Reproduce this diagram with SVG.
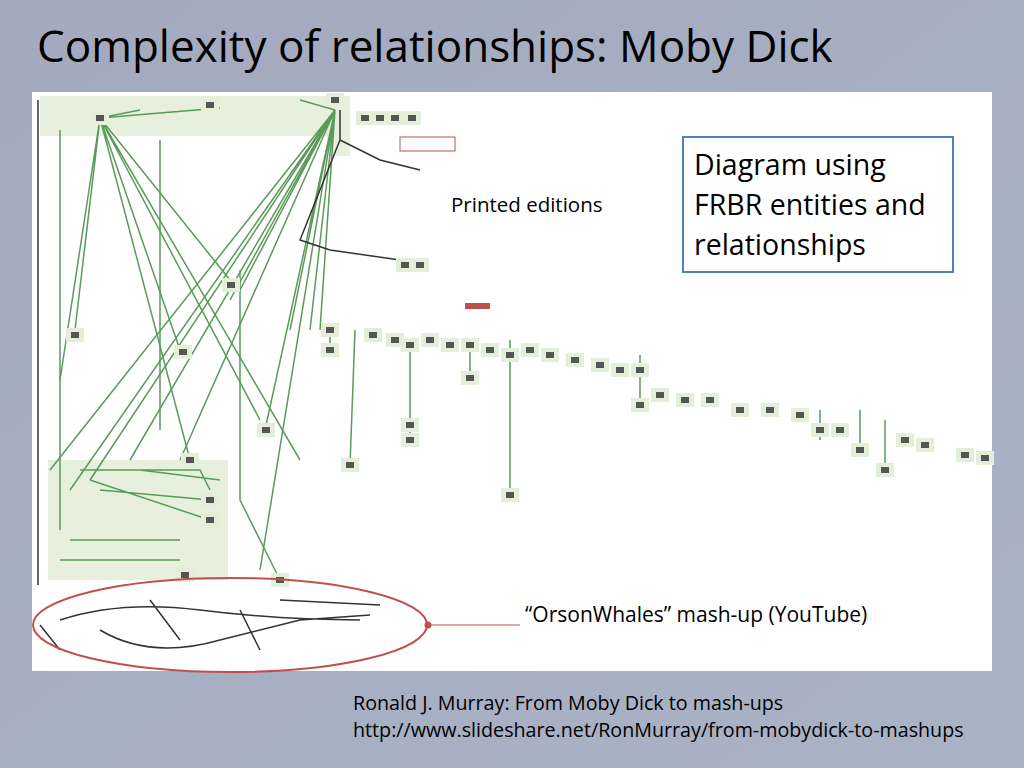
<svg xmlns="http://www.w3.org/2000/svg" width="1024" height="768" viewBox="0 0 1024 768">
<defs>
<linearGradient id="bg" x1="0" y1="0" x2="1" y2="1"><stop offset="0" stop-color="#a3aabd"/><stop offset="1" stop-color="#aab2c6"/></linearGradient>
<g id="n"><rect x="-9" y="-7" width="18" height="14" fill="#e3efd9"/><rect x="-4" y="-3" width="8" height="6" fill="#555"/></g>
</defs>
<style>
.t{font-family:"Open Sans","Liberation Sans",sans-serif;fill:#000}
.g{stroke:#5a9a5a;stroke-width:1.5;fill:none}
.k{stroke:#333;stroke-width:1.5;fill:none}
</style>
<rect width="1024" height="768" fill="url(#bg)"/>
<text class="t" x="37" y="62" font-size="44">Complexity of relationships: Moby Dick</text>
<rect x="32" y="92" width="960" height="579" fill="#fff"/>
<g id="shading" fill="#e6f0dd">
<rect x="40" y="96" width="310" height="40"/>
<rect x="330" y="96" width="20" height="60"/>
<rect x="48" y="460" width="180" height="120"/>
</g>
<g id="axis" stroke="#333" stroke-width="1.5"><line x1="38" y1="100" x2="38" y2="585"/></g>
<g id="connectors">
<path class="g" d="M100 118L60 380M100 118L75 330M100 118L180 350M100 118L260 420M100 118L300 460M100 118L230 280M100 118L190 460M100 118L140 110M100 118L220 108"/>
<path class="g" d="M335 110L50 470M335 110L70 490M335 110L90 480M335 110L130 460M335 110L180 460M335 110L230 300M335 110L265 430M335 110L290 330M335 110L310 330M335 110L320 330M335 110L260 570M335 110L240 290M335 110L300 100"/>
<path class="g" d="M60 130L60 530M80 470L200 470L210 490M90 480L210 520M100 490L210 500M140 470L220 480M70 540L180 540M60 560L180 560"/>
<path class="g" d="M240 270L240 500L280 580M330 330L330 350M410 340L410 440M470 340L470 380M510 340L510 495M640 355L640 405M820 410L820 440M860 410L860 450M885 420L885 470M355 330L350 465M160 140L160 430"/>
<path class="k" d="M340 110L340 140L380 160L420 170M340 140L300 240L330 250L400 260M60 620Q120 600 200 610T360 620M100 630Q150 660 220 640L300 620L370 615M150 600L180 640M240 610L260 650M40 625L60 650M280 600L380 605"/>
</g>
<g id="nodes">
<use href="#n" x="100" y="118"/><use href="#n" x="335" y="100"/><use href="#n" x="210" y="105"/><use href="#n" x="365" y="118"/><use href="#n" x="380" y="118"/><use href="#n" x="395" y="118"/><use href="#n" x="412" y="118"/>
<use href="#n" x="75" y="335"/><use href="#n" x="183" y="352"/><use href="#n" x="231" y="285"/><use href="#n" x="266" y="430"/><use href="#n" x="190" y="460"/><use href="#n" x="330" y="330"/><use href="#n" x="330" y="350"/>
<use href="#n" x="350" y="465"/><use href="#n" x="373" y="335"/><use href="#n" x="395" y="340"/><use href="#n" x="410" y="345"/><use href="#n" x="430" y="340"/><use href="#n" x="410" y="425"/><use href="#n" x="410" y="440"/>
<use href="#n" x="450" y="345"/><use href="#n" x="470" y="345"/><use href="#n" x="470" y="378"/><use href="#n" x="490" y="350"/><use href="#n" x="510" y="355"/><use href="#n" x="510" y="495"/><use href="#n" x="530" y="350"/><use href="#n" x="550" y="355"/>
<use href="#n" x="575" y="360"/><use href="#n" x="600" y="365"/><use href="#n" x="620" y="370"/><use href="#n" x="640" y="370"/><use href="#n" x="640" y="405"/><use href="#n" x="660" y="395"/><use href="#n" x="685" y="400"/><use href="#n" x="710" y="400"/>
<use href="#n" x="740" y="410"/><use href="#n" x="770" y="410"/><use href="#n" x="800" y="415"/><use href="#n" x="820" y="430"/><use href="#n" x="840" y="430"/><use href="#n" x="860" y="450"/><use href="#n" x="885" y="470"/><use href="#n" x="905" y="440"/><use href="#n" x="925" y="445"/><use href="#n" x="965" y="455"/><use href="#n" x="985" y="458"/>
<use href="#n" x="405" y="265"/><use href="#n" x="420" y="265"/><use href="#n" x="210" y="500"/><use href="#n" x="210" y="520"/><use href="#n" x="185" y="575"/><use href="#n" x="280" y="580"/>
<rect x="400" y="137" width="55" height="14" fill="#fff" stroke="#c0504d"/><rect x="465" y="303" width="25" height="6" fill="#c0504d"/>
</g>
<g id="callouts">
<text class="t" x="451" y="212" font-size="20.5">Printed editions</text>
<rect x="683" y="137" width="270" height="135" fill="#fff" stroke="#4f81bd" stroke-width="2"/>
<text class="t" x="694" y="175" font-size="28.5">Diagram using</text>
<text class="t" x="694" y="215" font-size="28.5">FRBR entities and</text>
<text class="t" x="694" y="255" font-size="28.5">relationships</text>
<ellipse cx="230" cy="625" rx="197" ry="47" fill="none" stroke="#c0504d" stroke-width="2"/>
<circle cx="428" cy="625" r="3.5" fill="#c0504d"/>
<line x1="428" y1="625" x2="520" y2="625" stroke="#c0504d" stroke-width="1"/>
<text class="t" x="525" y="622" font-size="21">“OrsonWhales” mash-up (YouTube)</text>
</g>
<text class="t" x="353" y="710" font-size="19.7">Ronald J. Murray: From Moby Dick to mash-ups</text>
<text class="t" x="353" y="737" font-size="19.7">http://www.slideshare.net/RonMurray/from-mobydick-to-mashups</text>
</svg>
